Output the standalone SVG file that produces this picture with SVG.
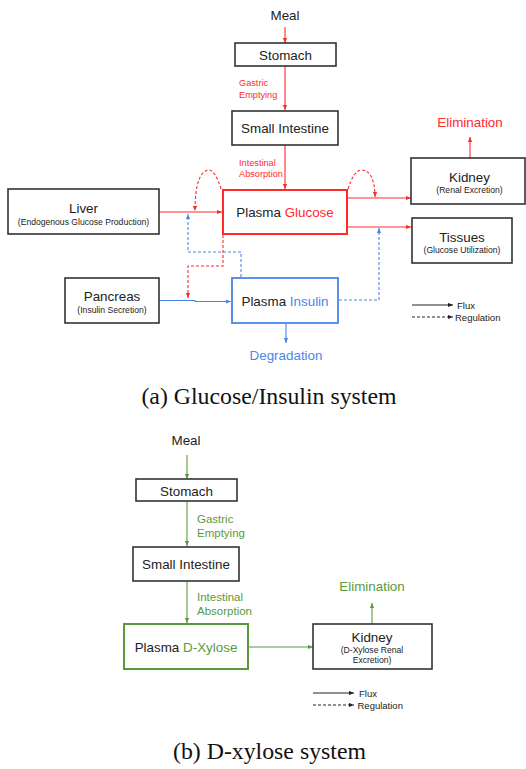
<svg xmlns="http://www.w3.org/2000/svg" width="526" height="769" viewBox="0 0 526 769">
<style>
  text { font-family: "Liberation Sans", Arial, sans-serif; fill: #222; }
  .t { font-size: 13.4px; text-anchor: middle; }
  .s { font-size: 8.6px; text-anchor: middle; }
  .lbl { font-size: 9.2px; }
  .glbl { font-size: 11.5px; fill: #5a9a3c; }
  .leg { font-size: 9.5px; }
  .cap { font-family: "Liberation Serif", "Times New Roman", serif; font-size: 23.8px; text-anchor: middle; fill: #111; }
  .red { fill: #ff2a2a; }
  .blue { fill: #4a86e8; }
  .green { fill: #5a9a3c; }
  .box { fill: #fff; stroke: #333; stroke-width: 1.6; }
  .rbox { fill: #fff; stroke: #ff2a2a; stroke-width: 2; }
  .bbox { fill: #fff; stroke: #4a86e8; stroke-width: 1.8; }
  .gbox { fill: #fff; stroke: #5a9a3c; stroke-width: 2; }
  .rl { fill: none; stroke: #ff2a2a; stroke-width: 1.1; marker-end: url(#ar); }
  .bl { fill: none; stroke: #4a86e8; stroke-width: 1.1; marker-end: url(#ab); }
  .gl { fill: none; stroke: #5a9a3c; stroke-width: 1.1; marker-end: url(#ag); }
  .kl { fill: none; stroke: #222; stroke-width: 1; marker-end: url(#ak); }
  .d { stroke-dasharray: 3 2; }
</style>
<defs>
  <marker id="ar" viewBox="0 0 6 6" refX="6" refY="3" markerWidth="5" markerHeight="5" markerUnits="userSpaceOnUse" orient="auto"><path d="M0,0.5 L6,3 L0,5.5 Z" fill="#ff2a2a"/></marker>
  <marker id="ab" viewBox="0 0 6 6" refX="6" refY="3" markerWidth="5" markerHeight="5" markerUnits="userSpaceOnUse" orient="auto"><path d="M0,0.5 L6,3 L0,5.5 Z" fill="#4a86e8"/></marker>
  <marker id="ag" viewBox="0 0 6 6" refX="6" refY="3" markerWidth="5" markerHeight="5" markerUnits="userSpaceOnUse" orient="auto"><path d="M0,0.5 L6,3 L0,5.5 Z" fill="#5a9a3c"/></marker>
  <marker id="ak" viewBox="0 0 6 6" refX="6" refY="3" markerWidth="5" markerHeight="5" markerUnits="userSpaceOnUse" orient="auto"><path d="M0,0.5 L6,3 L0,5.5 Z" fill="#222"/></marker>
</defs>
<rect width="526" height="769" fill="#fff"/>

<!-- (a) Glucose/Insulin system -->
<g id="connectors-a">
  <path class="rl" d="M285,27 V43"/>
  <path class="rl" d="M285,66 V110"/>
  <path class="rl" d="M285,145 V189"/>
  <path class="rl" d="M159,212 H222"/>
  <path class="rl" d="M347,198 H411"/>
  <path class="rl" d="M347,227 H411"/>
  <path class="rl" d="M470,158 V137"/>
  <path class="rl d" d="M221,189 C217,176 213,170 209,170 C201,170 195,182 195,211"/>
  <path class="rl d" d="M348,189 C352,177 356,170 362,170 C370,170 375,180 375,197"/>
  <path class="rl d" d="M223,235 V266 H188 V298"/>
  <path class="bl d" d="M241,277 V252 H188 V214"/>
  <path class="bl" d="M159,300.5 H195 V301.5 H231"/>
  <path class="bl d" d="M339,300 H379 V228"/>
  <path class="bl" d="M286,324 V343"/>
  <path class="kl" d="M412,305 H453"/>
  <path class="kl d" d="M412,317 H453"/>
</g>
<g id="meal-a"><text class="t" x="285" y="20">Meal</text></g>
<g id="stomach-a">
  <rect class="box" x="235" y="43" width="101" height="23"/>
  <text class="t" x="285.5" y="59.5">Stomach</text>
</g>
<g id="gastric-a">
  <text class="lbl red" x="239" y="86">Gastric</text>
  <text class="lbl red" x="239" y="98">Emptying</text>
</g>
<g id="intestine-a">
  <rect class="box" x="232" y="111" width="106" height="34"/>
  <text class="t" x="285" y="133">Small Intestine</text>
</g>
<g id="absorption-a">
  <text class="lbl red" x="239" y="165.5">Intestinal</text>
  <text class="lbl red" x="239" y="176.5">Absorption</text>
</g>
<g id="plasma-glucose">
  <rect class="rbox" x="223" y="190" width="124" height="44"/>
  <text class="t" x="285" y="217">Plasma <tspan class="red">Glucose</tspan></text>
</g>
<g id="liver">
  <rect class="box" x="8" y="189" width="151" height="45"/>
  <text class="t" x="83.5" y="212.5">Liver</text>
  <text class="s" x="83.5" y="224.5">(Endogenous Glucose Production)</text>
</g>
<g id="kidney-a">
  <rect class="box" x="411" y="158" width="114" height="46"/>
  <text class="t" x="469.5" y="181.5">Kidney</text>
  <text class="s" x="469.5" y="192.5">(Renal Excretion)</text>
</g>
<g id="elimination-a"><text class="t red" x="470" y="127">Elimination</text></g>
<g id="tissues">
  <rect class="box" x="412" y="218" width="100" height="45"/>
  <text class="t" x="462" y="241.5">Tissues</text>
  <text class="s" x="462" y="252.5">(Glucose Utilization)</text>
</g>
<g id="pancreas">
  <rect class="box" x="65" y="278" width="94" height="45"/>
  <text class="t" x="112" y="301">Pancreas</text>
  <text class="s" x="112" y="312.5">(Insulin Secretion)</text>
</g>
<g id="plasma-insulin">
  <rect class="bbox" x="232" y="278" width="106" height="45"/>
  <text class="t" x="285" y="305.5">Plasma <tspan class="blue">Insulin</tspan></text>
</g>
<g id="degradation"><text class="t blue" x="286" y="360">Degradation</text></g>
<g id="legend-a">
  <text class="leg" x="457" y="308.5">Flux</text>
  <text class="leg" x="455" y="320.5">Regulation</text>
</g>
<text class="cap" x="269" y="404">(a) Glucose/Insulin system</text>

<!-- (b) D-xylose system -->
<g id="connectors-b">
  <path class="gl" d="M187,455 V479"/>
  <path class="gl" d="M187,501 V546"/>
  <path class="gl" d="M187,581 V623"/>
  <path class="gl" d="M249,647 H313"/>
  <path class="gl" d="M372,624 V603"/>
  <path class="kl" d="M313,693 H354"/>
  <path class="kl d" d="M313,705 H354"/>
</g>
<g id="meal-b"><text class="t" x="186" y="445">Meal</text></g>
<g id="stomach-b">
  <rect class="box" x="136" y="479" width="101" height="22"/>
  <text class="t" x="186.5" y="495.5">Stomach</text>
</g>
<g id="gastric-b">
  <text class="glbl" x="197" y="523">Gastric</text>
  <text class="glbl" x="197" y="537">Emptying</text>
</g>
<g id="intestine-b">
  <rect class="box" x="133" y="547" width="106" height="34"/>
  <text class="t" x="186" y="569">Small Intestine</text>
</g>
<g id="absorption-b">
  <text class="glbl" x="197" y="601">Intestinal</text>
  <text class="glbl" x="197" y="615">Absorption</text>
</g>
<g id="plasma-xylose">
  <rect class="gbox" x="124" y="624" width="124" height="45"/>
  <text class="t" x="186" y="652">Plasma <tspan class="green">D-Xylose</tspan></text>
</g>
<g id="kidney-b">
  <rect class="box" x="313" y="624" width="119" height="45"/>
  <text class="t" x="372" y="641.5">Kidney</text>
  <text class="s" x="372" y="653">(D-Xylose Renal</text>
  <text class="s" x="372" y="662.5">Excretion)</text>
</g>
<g id="elimination-b"><text class="t green" x="372" y="590.5">Elimination</text></g>
<g id="legend-b">
  <text class="leg" x="359" y="696.5">Flux</text>
  <text class="leg" x="357.5" y="708.5">Regulation</text>
</g>
<text class="cap" x="269.5" y="759">(b) D-xylose system</text>
</svg>
